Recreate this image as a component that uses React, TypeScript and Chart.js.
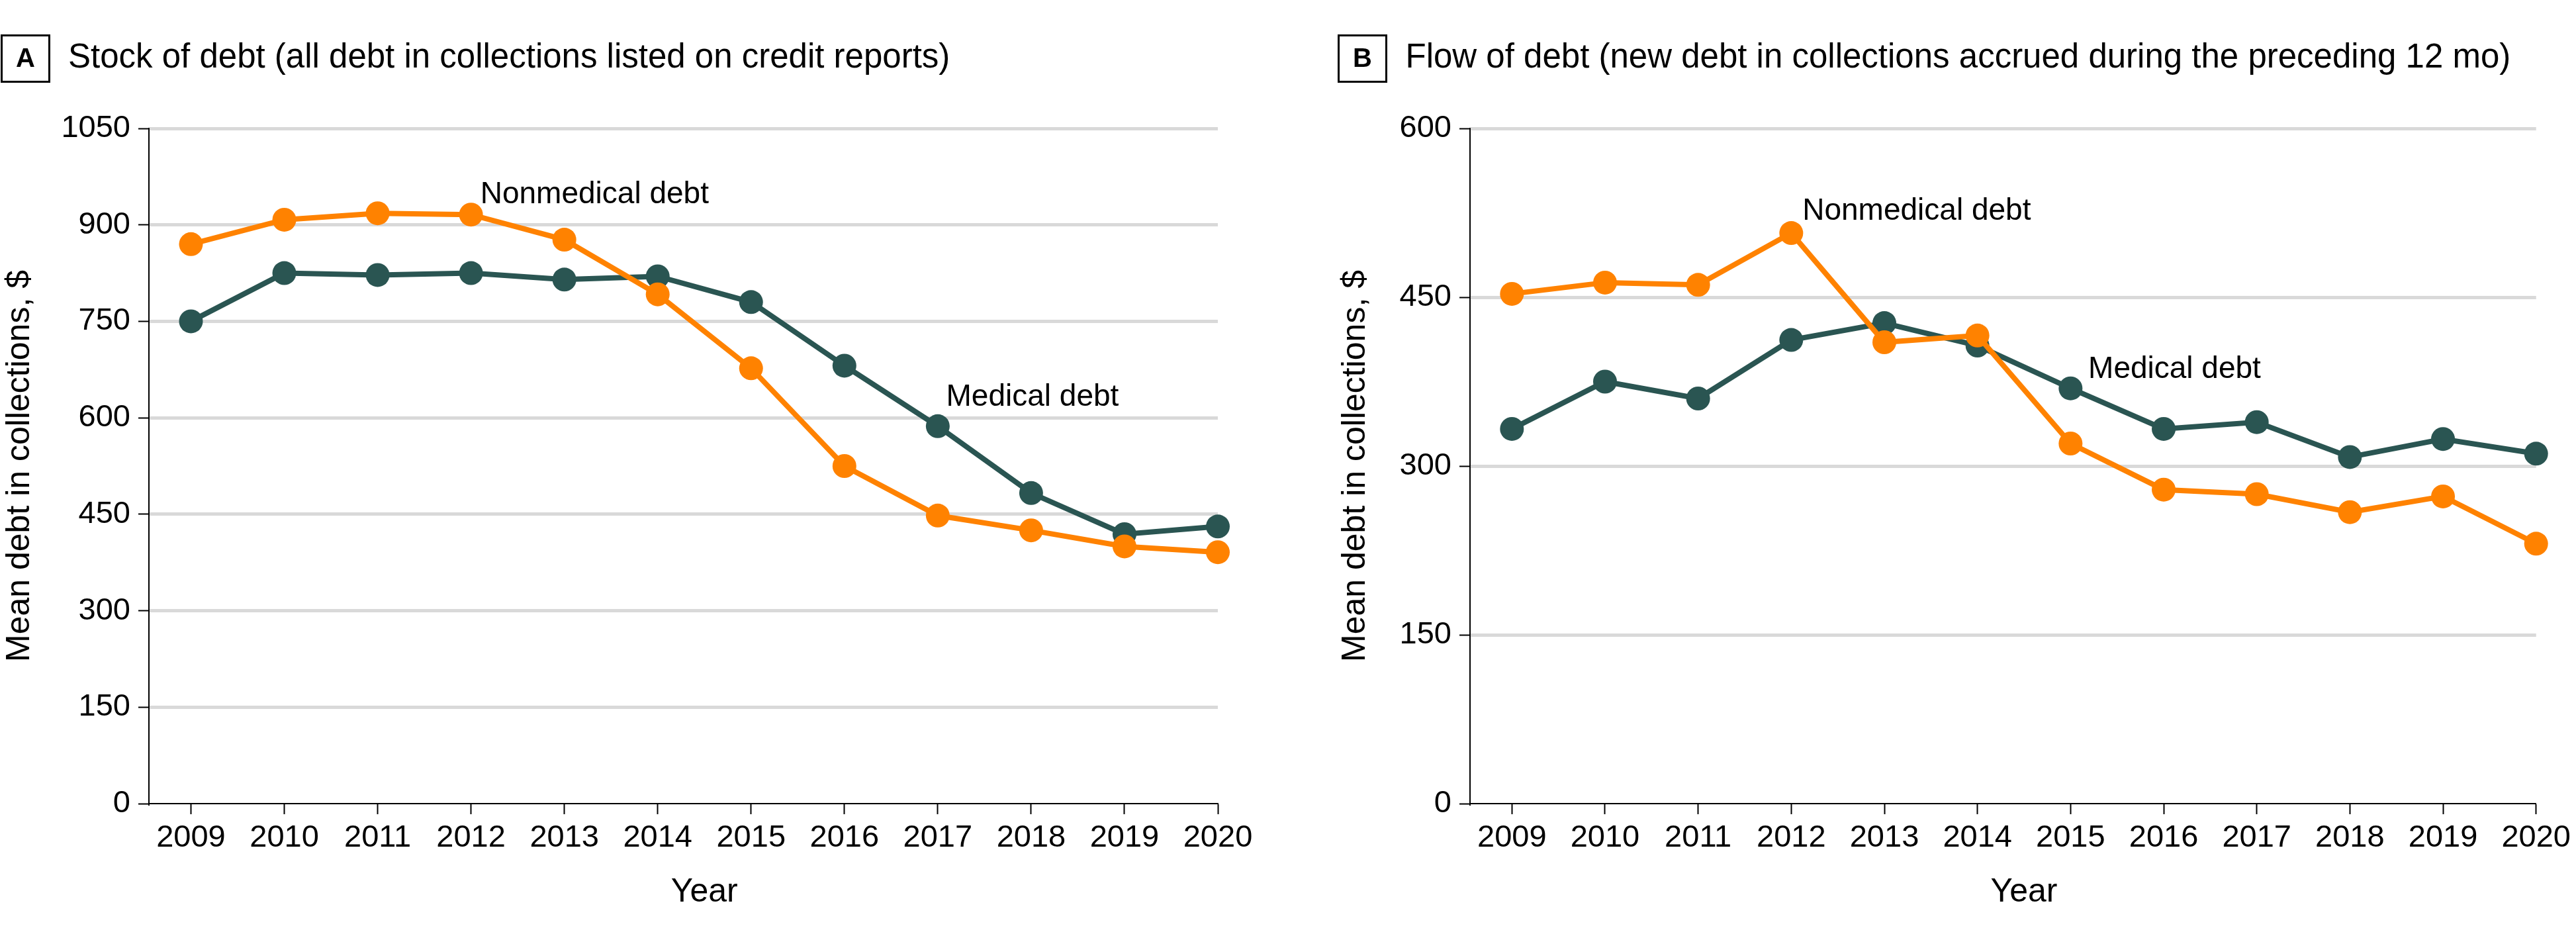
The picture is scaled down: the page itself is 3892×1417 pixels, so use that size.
import React, { useEffect, useRef } from "react";
import { Chart, registerables } from "chart.js";

Chart.register(...registerables);

const FONT = "'Liberation Sans', Arial, sans-serif";
const ORANGE = "#FF8200";
const TEAL = "#2A5552";
const GRID = "#D9D9D9";

// ---- data ----
const years = [2009, 2010, 2011, 2012, 2013, 2014, 2015, 2016, 2017, 2018, 2019, 2020];

const stockMedical = [750, 825, 822, 825, 815, 820, 780, 681, 587, 483, 419, 431];
const stockNonmedical = [870, 908, 918, 916, 877, 792, 677, 525, 448, 425, 400, 391];

const flowMedical = [333, 375, 360, 412, 427, 407, 369, 333, 339, 308, 324, 311];
const flowNonmedical = [453, 463, 461, 507, 410, 416, 320, 279, 275, 259, 273, 231];

const stockYMax = 1050;
const flowYMax = 600;
const yStep = 150;

const seriesNames = ["Nonmedical debt", "Medical debt"];
const yAxisTitle = "Mean debt in collections, $";
const xAxisTitle = "Year";

const panelA = {
  letter: "A",
  title: "Stock of debt (all debt in collections listed on credit reports)",
  medical: stockMedical,
  nonmedical: stockNonmedical,
  yMax: stockYMax,
  notes: [
    { text: "Nonmedical debt", x: 2012.1, y: 934 },
    { text: "Medical debt", x: 2017.09, y: 619 },
  ],
};

const panelB = {
  letter: "B",
  title: "Flow of debt (new debt in collections accrued during the preceding 12 mo)",
  medical: flowMedical,
  nonmedical: flowNonmedical,
  yMax: flowYMax,
  notes: [
    { text: "Nonmedical debt", x: 2012.12, y: 519 },
    { text: "Medical debt", x: 2015.19, y: 378.5 },
  ],
};

const decorPlugin = {
  id: "panelDecor",
  afterDraw(chart: any, _args: any, opts: any) {
    const { ctx, chartArea } = chart;
    const xs = chart.scales.x;
    const ys = chart.scales.y;
    ctx.save();
    // letter box
    ctx.strokeStyle = "#000";
    ctx.lineWidth = 3;
    ctx.strokeRect(opts.boxX + 1.5, 52 + 1.5, 72, 70);
    ctx.fillStyle = "#000";
    ctx.font = `bold 40px ${FONT}`;
    ctx.textAlign = "center";
    ctx.textBaseline = "middle";
    ctx.fillText(opts.letter, opts.boxX + 37.5, 90);
    // panel title
    ctx.font = `51px ${FONT}`;
    ctx.textAlign = "left";
    ctx.fillText(opts.title, opts.titleX, 88);
    // annotations
    ctx.font = `46px ${FONT}`;
    ctx.textBaseline = "alphabetic";
    for (const n of opts.notes) {
      ctx.fillText(n.text, xs.getPixelForValue(n.x), ys.getPixelForValue(n.y));
    }
    // x title
    ctx.font = `50px ${FONT}`;
    ctx.textAlign = "center";
    ctx.textBaseline = "middle";
    const cx = (xs.getPixelForValue(years[0]) + xs.getPixelForValue(years[years.length - 1])) / 2;
    ctx.fillText(xAxisTitle, cx, chartArea.bottom + 134);
    // y title
    ctx.translate(opts.yTitleX, (chartArea.top + chartArea.bottom) / 2);
    ctx.rotate(-Math.PI / 2);
    ctx.fillText(yAxisTitle, 0, 0);
    ctx.restore();
  },
};

function Panel({ left, width, panel, boxX, titleX, yTitleX }: any) {
  const ref = useRef<HTMLCanvasElement>(null);
  useEffect(() => {
    const mk = (vals: number[]) => years.map((x, i) => ({ x, y: vals[i] }));
    const chart = new Chart(ref.current as HTMLCanvasElement, {
      type: "line",
      data: {
        datasets: [
          {
            label: seriesNames[0],
            data: mk(panel.nonmedical),
            borderColor: ORANGE,
            backgroundColor: ORANGE,
            pointBackgroundColor: ORANGE,
            pointBorderWidth: 0,
            pointRadius: 18,
            borderWidth: 8,
            tension: 0,
            order: 0,
            clip: false,
          } as any,
          {
            label: seriesNames[1],
            data: mk(panel.medical),
            borderColor: TEAL,
            backgroundColor: TEAL,
            pointBackgroundColor: TEAL,
            pointBorderWidth: 0,
            pointRadius: 18,
            borderWidth: 8,
            tension: 0,
            order: 1,
            clip: false,
          } as any,
        ],
      },
      options: {
        responsive: false,
        animation: false,
        devicePixelRatio: 1,
        events: [],
        layout: { padding: { left: 0, right: width - 1840, top: 194, bottom: 0 } },
        plugins: {
          legend: { display: false },
          tooltip: { enabled: false },
          title: { display: false },
          panelDecor: {
            letter: panel.letter,
            title: panel.title,
            notes: panel.notes,
            boxX,
            titleX,
            yTitleX,
          },
        } as any,
        scales: {
          x: {
            type: "linear",
            min: 2008.55,
            max: 2020,
            afterFit: (s: any) => {
              s.height = 203;
            },
            ticks: {
              stepSize: 1,
              includeBounds: false,
              autoSkip: false,
              maxRotation: 0,
              minRotation: 0,
              padding: 8,
              color: "#000",
              font: { family: FONT, size: 47 },
              callback: (v: any) => String(v),
            },
            grid: {
              drawOnChartArea: false,
              drawTicks: true,
              tickLength: 16,
              tickWidth: 2,
              tickColor: "#000",
              color: "#000",
            },
            border: { display: true, color: "#000", width: 2 },
          },
          y: {
            type: "linear",
            min: 0,
            max: panel.yMax,
            afterFit: (s: any) => {
              s.width = 225;
            },
            ticks: {
              stepSize: yStep,
              padding: 12,
              color: "#000",
              font: { family: FONT, size: 47 },
              callback: (v: any) => String(v),
            },
            grid: {
              color: (c: any) => (c.tick && c.tick.value === 0 ? "rgba(0,0,0,0)" : GRID),
              lineWidth: 5,
              drawTicks: true,
              tickLength: 16,
              tickWidth: 2,
              tickColor: "#000",
            },
            border: { display: true, color: "#000", width: 2 },
          },
        } as any,
      },
      plugins: [decorPlugin as any],
    });
    return () => chart.destroy();
  }, []);
  return (
    <canvas
      ref={ref}
      width={width}
      height={1417}
      style={{ position: "absolute", left, top: 0, width, height: 1417 }}
    />
  );
}

export default function App() {
  return (
    <div
      style={{
        position: "absolute",
        left: 0,
        top: 0,
        width: 3892,
        height: 1417,
        background: "#fff",
        overflow: "hidden",
      }}
    >
      <Panel left={0} width={1996} panel={panelA} boxX={1} titleX={103} yTitleX={30} />
      <Panel left={1996} width={1896} panel={panelB} boxX={25} titleX={127.5} yTitleX={52} />
    </div>
  );
}
